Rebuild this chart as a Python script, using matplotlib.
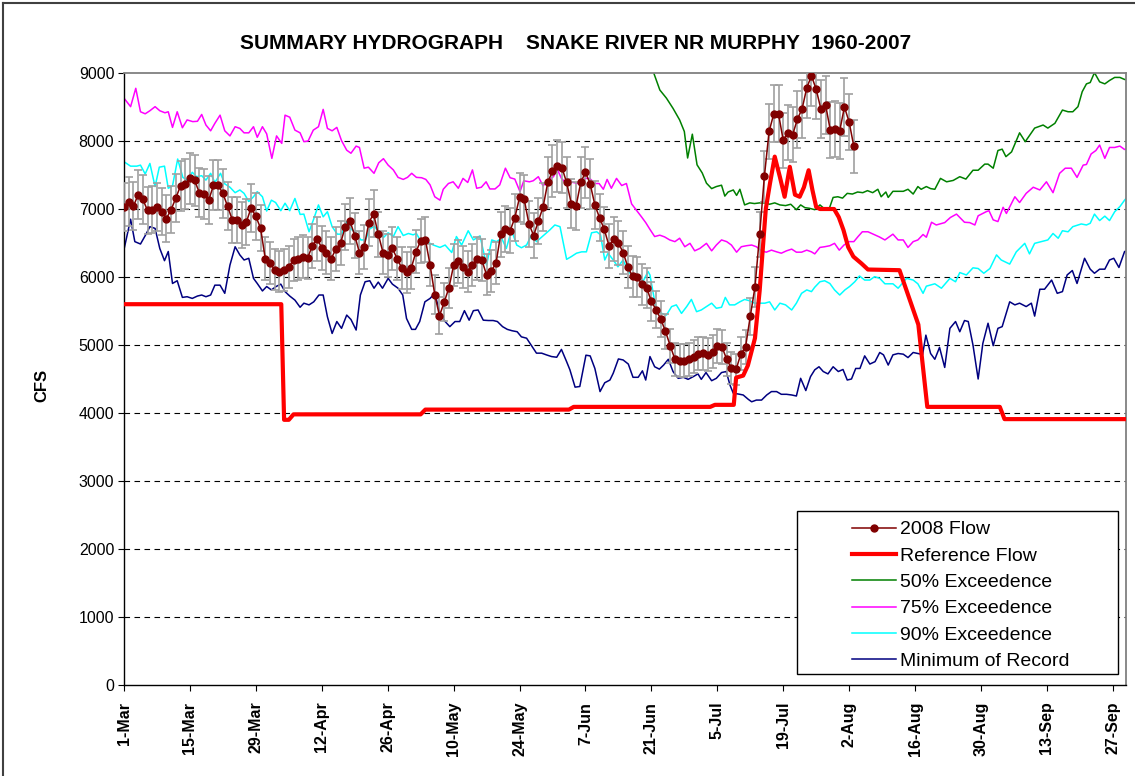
import matplotlib
matplotlib.use("Agg")
import matplotlib.pyplot as plt
import numpy as np
import pandas as pd
from matplotlib.lines import Line2D
from matplotlib.patches import Rectangle

plt.rcParams["font.family"] = ["Liberation Sans", "DejaVu Sans"]

TITLE = "SUMMARY HYDROGRAPH    SNAKE RIVER NR MURPHY  1960-2007"
Y_TICKS = list(range(0, 9001, 1000))
TICK_DATES = pd.date_range("2008-03-01", periods=16, freq="14D")
TICK_LABELS = [f"{d.day}-{d:%b}" for d in TICK_DATES]
TICK_DAYS = [(d - TICK_DATES[0]).days for d in TICK_DATES]
ERR_FRAC = 0.05  # error bars on 2008 flow

# 2008 daily flow, one value per day from 1-Mar
FLOW_2008 = [
    7030, 7110, 7040, 7210, 7140, 6980, 6990, 7030, 6960, 6860,
    6990, 7160, 7340, 7370, 7450, 7420, 7240, 7220, 7130, 7350,
    7350, 7230, 7040, 6840, 6840, 6760, 6810, 7020, 6890, 6720,
    6270, 6200, 6110, 6080, 6100, 6150, 6250, 6270, 6300, 6280,
    6460, 6560, 6430, 6360, 6270, 6410, 6500, 6740, 6820, 6610,
    6360, 6440, 6800, 6930, 6630, 6360, 6320, 6420, 6270, 6130,
    6070, 6130, 6370, 6530, 6550, 6180, 5740, 5430, 5630, 5840,
    6170, 6230, 6150, 6080, 6180, 6270, 6250, 6030, 6090, 6200,
    6630, 6710, 6680, 6870, 7170, 7140, 6780, 6610, 6820, 7030,
    7390, 7560, 7630, 7610, 7390, 7080, 7040, 7390, 7540, 7370,
    7060, 6870, 6700, 6460, 6560, 6500, 6360, 6150, 6010, 6000,
    5890, 5840, 5640, 5520, 5380, 5200, 4990, 4790, 4770, 4770,
    4790, 4830, 4870, 4880, 4860, 4900, 4990, 4970, 4790, 4660,
    4640, 4870, 4970, 5420, 5850, 6630, 7480, 8140, 8400, 8400,
    8010, 8120, 8090, 8320, 8470, 8780, 8960, 8760, 8470, 8530,
    8160, 8180, 8150, 8500, 8280, 7920,
]

REF_DAY = [0, 33.4, 34, 35, 36, 63, 64, 94.5, 95.5, 124.5, 125.5, 129.5, 130,
           131.5, 132.5, 134, 135, 135.7, 136.3, 137.2, 138.2, 139.3, 140.3,
           141.4, 142.5, 143.5, 144.4, 145.4, 146.2, 147, 147.8, 150.8, 151.8,
           152.8, 153.8, 154.9, 156.6, 158, 164.7, 168.7, 170.6, 186, 187, 213]
REF_CFS = [5600, 5600, 3900, 3900, 3980, 3980, 4050, 4050, 4090, 4090, 4120, 4120,
           4520, 4550, 4700, 5100, 5800, 6450, 7000, 7380, 7770, 7470, 7180, 7620,
           7210, 7180, 7320, 7570, 7280, 7030, 7000, 7000, 6880, 6690, 6440, 6300,
           6200, 6110, 6100, 5300, 4090, 4090, 3910, 3910]

P50_DAY = [111.4, 112.4, 113.8, 115.2, 116.6, 118.0, 119.0, 119.7, 120.7, 121.7,
           122.8, 123.7, 124.8, 125.8, 126.9, 127.6, 128.3, 129.4, 130.1, 130.8,
           131.8, 132.9, 133.9, 135.0, 136.1, 137.1, 138.2, 139.3, 140.5, 141.6,
           142.8, 143.7, 144.6, 145.6, 146.7, 147.8, 148.8, 149.8, 150.6, 151.6,
           152.6, 153.6, 154.7, 155.8, 156.9, 157.9, 159.0, 160.1, 160.8, 161.8,
           162.3, 163.3, 164.4, 165.5, 166.5, 167.6, 168.6, 169.3, 170.4, 171.3,
           172.2, 173.4, 174.7, 176.1, 177.5, 178.8, 180.3, 181.4, 182.8, 183.5,
           184.6, 185.6, 186.5, 187.3, 188.5, 190.2, 191.4, 193.4, 195.2, 196.2,
           197.7, 199.3, 200.5, 201.5, 202.6, 203.5, 204.4, 205.2, 206.1, 207.2,
           208.3, 209.3, 210.4, 211.5, 212.5, 213]
P50_CFS = [9300, 9020, 8750, 8630, 8480, 8310, 8140, 7750, 8100, 7650,
           7530, 7380, 7300, 7330, 7350, 7190, 7250, 7280, 7200, 7290,
           7060, 7090, 7080, 7090, 7090, 7070, 7090, 7060, 7050, 7070,
           6990, 7060, 7020, 7010, 6990, 7060, 7000, 7010, 7170, 7180,
           7160, 7230, 7220, 7250, 7240, 7270, 7240, 7290, 7180, 7250,
           7170, 7260, 7260, 7260, 7290, 7220, 7330, 7290, 7330, 7300,
           7290, 7450, 7400, 7420, 7475, 7440, 7570, 7570, 7660, 7660,
           7600, 7860, 7880, 7770, 7840, 8120, 7990, 8190, 8235, 8190,
           8260, 8455, 8430, 8430, 8505, 8725, 8840, 8860, 9005, 8870,
           8840, 8890, 8935, 8935, 8905, 8900]

P75_DAY = [0, 1.4, 2.5, 3.5, 4.5, 5.5, 6.6, 7.6, 8.7, 9.4, 10.3, 11.3, 12.4, 13.4,
           14.6, 15.6, 16.5, 17.4, 18.4, 19.3, 20.4, 21.4, 22.5, 23.6, 24.6, 25.5,
           26.5, 27.5, 28.3, 29.4, 30.3, 31.4, 32.4, 33.5, 34.2, 35.2, 36.3, 37.4,
           38.2, 39.1, 40.2, 41.3, 42.3, 43.2, 44.2, 45.2, 46.2, 47.3, 48.2, 49.3,
           50.0, 51.0, 51.9, 53.1, 54.1, 55.1, 56.1, 57.2, 58.2, 59.3, 60.2, 61.1,
           62.1, 63.2, 64.1, 65.0, 66.0, 67.1, 67.8, 68.9, 69.9, 71.0, 72.0, 73.0,
           74.0, 74.9, 75.9, 76.9, 77.7, 78.8, 79.8, 81.0, 82.0, 83.0, 84.1, 84.9,
           86.1, 86.9, 88.0, 89.0, 90.1, 91.2, 92.0, 92.9, 94.0, 94.7, 95.8, 96.8,
           97.9, 98.9, 100.0, 100.9, 101.8, 102.6, 103.5, 104.6, 105.7, 106.7,
           107.8, 108.8, 109.9, 110.8, 111.7, 112.7, 113.8, 114.8, 115.9, 117.0,
           118.0, 119.1, 120.2, 121.2, 122.3, 123.7, 124.8, 125.8, 126.9, 128.0,
           129.0, 130.1, 131.1, 132.2, 133.3, 134.3, 135.4, 136.4, 137.5, 138.6,
           139.6, 140.7, 141.8, 142.8, 143.9, 145.0, 146.0, 146.7, 147.8, 148.8,
           149.9, 150.9, 151.9, 152.9, 154.0, 155.0, 155.9, 156.8, 158.0, 159.1,
           160.4, 161.6, 162.6, 163.3, 164.4, 165.5, 166.5, 167.6, 168.6, 169.7,
           170.4, 171.5, 172.5, 174.3, 175.5, 176.8, 178.5, 179.6, 180.7, 181.4,
           183.1, 183.7, 184.6, 185.6, 186.7, 187.4, 189.2, 190.2, 191.6, 193.1,
           194.5, 195.9, 197.3, 198.7, 199.9, 201.2, 202.4, 203.7, 204.4, 205.4,
           206.4, 207.2, 208.3, 209.3, 210.4, 211.5, 212.5, 213]
P75_CFS = [8630, 8505, 8775, 8430, 8400, 8445, 8505, 8445, 8415, 8430, 8200, 8430,
           8195, 8310, 8285, 8290, 8390, 8235, 8150, 8260, 8380, 8150, 8075, 8210,
           8185, 8120, 8120, 8210, 8055, 8210, 8105, 7745, 8075, 7965, 8380, 8350,
           8160, 8120, 7990, 8000, 8160, 8210, 8465, 8185, 8150, 8200, 8005, 7865,
           7820, 7925, 7905, 7600, 7615, 7525, 7680, 7740, 7645, 7575, 7465, 7435,
           7465, 7525, 7465, 7460, 7435, 7355, 7180, 7130, 7290, 7375, 7400, 7305,
           7450, 7390, 7575, 7305, 7320, 7400, 7295, 7295, 7355, 7600, 7460, 7440,
           7255, 7415, 7400, 7415, 7475, 7340, 7425, 7475, 7585, 7450, 7375, 7400,
           7385, 7370, 7450, 7450, 7375, 7375, 7290, 7435, 7305, 7450, 7345, 7375,
           7075, 6985, 6885, 6800, 6700, 6595, 6615, 6590, 6545, 6520, 6570, 6445,
           6495, 6385, 6420, 6495, 6385, 6470, 6545, 6520, 6470, 6365, 6445, 6460,
           6470, 6445, 6385, 6365, 6395, 6370, 6350, 6385, 6410, 6365, 6365, 6395,
           6370, 6340, 6435, 6445, 6460, 6495, 6395, 6470, 6520, 6520, 6595, 6665,
           6665, 6630, 6590, 6545, 6595, 6630, 6545, 6545, 6435, 6520, 6545, 6625,
           6585, 6805, 6765, 6800, 6875, 6925, 6805, 6800, 6765, 6900, 6960, 6975,
           6840, 6815, 7025, 6935, 7180, 7095, 7230, 7320, 7280, 7400, 7240, 7525,
           7600, 7600, 7465, 7645, 7655, 7810, 7860, 7940, 7745, 7905, 7905, 7925,
           7875, 7890]

P90_DAY = [0, 1.4, 2.7, 3.5, 4.5, 5.5, 6.6, 7.5, 8.6, 9.4, 10.3, 11.4, 12.5, 13.4,
           14.5, 15.4, 16.5, 17.4, 18.4, 19.3, 20.5, 21.4, 22.5, 23.6, 24.6, 25.5,
           26.5, 27.5, 28.3, 29.4, 30.3, 31.3, 32.2, 33.3, 34.2, 35.2, 36.3, 37.4,
           38.2, 39.3, 40.3, 41.3, 42.3, 43.2, 44.2, 45.3, 46.2, 47.3, 48.3, 49.4,
           50.3, 51.3, 52.2, 53.2, 54.1, 55.1, 56.1, 57.2, 58.2, 59.3, 60.4, 61.4,
           62.1, 63.2, 64.3, 65.7, 67.1, 68.2, 69.6, 70.6, 71.7, 73.1, 74.2, 75.6,
           77.0, 78.1, 79.1, 80.2, 81.2, 82.3, 83.4, 84.4, 85.5, 86.6, 87.6, 89.0,
           90.4, 91.5, 92.6, 94.0, 95.0, 96.1, 97.2, 98.2, 99.3, 100.4, 101.2,
           102.1, 102.8, 103.9, 104.9, 106.0, 107.1, 108.1, 109.2, 110.3, 111.3,
           111.7, 112.4, 113.1, 114.2, 115.2, 116.3, 117.3, 118.4, 119.5, 120.5,
           121.6, 122.6, 123.7, 124.8, 125.8, 126.9, 127.7, 128.6, 129.7, 130.8,
           131.8, 132.9, 133.9, 135.0, 136.1, 137.1, 138.2, 139.3, 140.5, 141.8,
           142.8, 143.9, 145.0, 146.0, 146.7, 147.8, 148.8, 149.9, 150.9, 152.0,
           153.1, 154.1, 155.2, 156.2, 157.3, 158.4, 159.4, 160.5, 161.6, 163.3,
           164.4, 166.2, 167.6, 168.6, 169.7, 170.4, 172.2, 173.6, 175.4, 176.6,
           177.5, 178.9, 180.3, 181.4, 182.6, 183.9, 185.3, 186.3, 188.1, 189.5,
           191.3, 192.3, 193.4, 194.8, 196.2, 197.3, 198.4, 199.3, 200.5, 201.5,
           203.3, 204.4, 205.2, 206.1, 207.2, 208.3, 209.3, 210.4, 211.5, 212.5, 213]
P90_CFS = [7695, 7630, 7630, 7645, 7515, 7670, 7330, 7615, 7630, 7305, 7340, 7735,
           7465, 7425, 7540, 7475, 7490, 7425, 7525, 7390, 7525, 7370, 7320, 7240,
           7280, 7230, 7110, 7180, 7255, 7180, 6970, 7130, 7095, 6975, 7085, 6975,
           7155, 6920, 6925, 6665, 6855, 7060, 6885, 6960, 6740, 6630, 6630, 6815,
           6700, 6640, 6545, 6545, 6710, 6745, 6660, 6580, 6650, 6595, 6740, 6610,
           6640, 6620, 6640, 6505, 6520, 6470, 6435, 6470, 6360, 6595, 6470, 6680,
           6545, 6605, 6175, 6545, 6520, 6570, 6420, 6690, 6470, 6430, 6470, 6625,
           6520, 6605, 6690, 6765, 6740, 6260, 6300, 6350, 6370, 6370, 6650, 6665,
           6620, 6250, 6350, 6250, 6150, 6250, 6080, 6015, 5980, 5945, 6080, 6030,
           5760, 5490, 5465, 5440, 5565, 5590, 5465, 5565, 5670, 5490, 5515, 5565,
           5615, 5540, 5555, 5700, 5590, 5590, 5635, 5670, 5650, 5615, 5615, 5615,
           5635, 5515, 5615, 5590, 5515, 5615, 5760, 5810, 5785, 5850, 5930, 5945,
           5905, 5810, 5735, 5810, 5860, 5930, 6015, 5955, 5955, 6005, 5980, 5900,
           5900, 5835, 5980, 5955, 5900, 5760, 5865, 5900, 5835, 5980, 5930, 6065,
           6030, 6135, 6125, 6055, 6125, 6325, 6250, 6190, 6370, 6495, 6340, 6495,
           6520, 6545, 6640, 6570, 6680, 6665, 6740, 6780, 6765, 6790, 6925, 6830,
           6895, 6830, 6960, 7035, 7130, 7170]

MIN_DAY = [0, 1.4, 2.3, 3.5, 4.6, 5.5, 6.6, 7.6, 8.6, 9.4, 10.3, 11.3, 12.4, 13.4,
           14.5, 15.6, 16.5, 17.4, 18.4, 19.3, 20.4, 21.4, 22.5, 23.6, 24.6, 25.5,
           26.5, 27.5, 28.3, 29.4, 30.3, 31.3, 32.3, 33.3, 34.2, 35.2, 36.3, 37.4,
           38.2, 39.3, 40.3, 41.4, 42.3, 43.2, 44.2, 45.2, 46.2, 47.3, 48.2, 49.3,
           50.2, 51.2, 52.2, 53.1, 54.0, 54.9, 56.1, 57.0, 58.2, 59.2, 60.0, 61.1,
           61.9, 62.8, 63.9, 65.0, 66.0, 67.1, 68.2, 69.2, 70.3, 71.3, 72.3, 73.3,
           74.2, 75.2, 76.3, 77.4, 78.4, 79.3, 80.4, 81.4, 82.4, 83.5, 84.4, 85.5,
           86.6, 87.6, 88.7, 89.7, 90.8, 91.9, 92.9, 94.0, 94.7, 95.8, 96.8, 98.1,
           99.0, 100.0, 101.1, 102.1, 103.2, 103.9, 105.0, 106.0, 107.1, 108.1,
           109.2, 110.1, 110.8, 111.7, 112.7, 113.7, 114.6, 115.6, 116.6, 117.7,
           118.8, 119.8, 120.9, 121.9, 122.6, 123.6, 124.8, 125.8, 126.9, 127.9,
           128.7, 129.4, 130.4, 131.5, 132.6, 133.3, 134.3, 135.4, 136.5, 137.5,
           138.6, 139.6, 140.7, 141.8, 142.8, 143.7, 144.8, 145.8, 146.7, 147.6,
           148.5, 149.5, 150.6, 151.7, 152.7, 153.6, 154.5, 155.4, 156.3, 157.3,
           158.4, 159.5, 160.5, 161.3, 162.3, 163.3, 164.4, 165.5, 166.5, 167.6,
           168.6, 169.6, 170.3, 171.3, 172.2, 173.2, 174.3, 175.4, 176.6, 177.5,
           178.5, 179.3, 180.3, 181.4, 182.4, 183.5, 184.6, 185.6, 186.5, 188.1,
           189.2, 190.2, 191.6, 192.7, 193.4, 194.5, 195.5, 197.0, 198.2, 199.3,
           200.3, 201.4, 202.4, 204.0, 205.2, 206.1, 207.2, 208.3, 209.3, 210.2,
           211.3, 212.5, 213]
MIN_CFS = [6405, 6850, 6520, 6485, 6620, 6740, 6715, 6420, 6240, 6375, 5905, 5945,
           5700, 5710, 5685, 5720, 5735, 5710, 5735, 5880, 5880, 5760, 6175, 6445,
           6325, 6250, 6275, 5980, 5905, 5795, 5860, 5810, 5860, 5895, 5785, 5720,
           5660, 5555, 5615, 5590, 5635, 5735, 5735, 5415, 5170, 5345, 5245, 5440,
           5375, 5220, 5735, 5930, 5945, 5835, 5925, 5835, 5980, 5895, 5835, 5735,
           5390, 5230, 5230, 5345, 5635, 5685, 5760, 5465, 5345, 5270, 5345, 5345,
           5505, 5365, 5505, 5515, 5365, 5360, 5360, 5345, 5270, 5230, 5210, 5195,
           5120, 5100, 4985, 4880, 4880, 4855, 4830, 4820, 4935, 4755, 4635, 4380,
           4390, 4850, 4840, 4655, 4315, 4445, 4485, 4585, 4795, 4780, 4720, 4525,
           4525, 4620, 4485, 4830, 4680, 4645, 4705, 4790, 4610, 4510, 4525, 4495,
           4535, 4575, 4495, 4595, 4475, 4510, 4595, 4610, 4410, 4290, 4280, 4265,
           4200, 4165, 4190, 4190, 4265, 4315, 4315, 4275, 4275, 4265, 4250, 4510,
           4330, 4535, 4635, 4680, 4610, 4575, 4680, 4610, 4640, 4485, 4500, 4655,
           4655, 4840, 4720, 4755, 4890, 4855, 4705, 4855, 4875, 4865, 4815, 4890,
           4875, 4860, 5145, 4875, 4790, 4965, 4670, 5245, 5345, 5195, 5360, 5345,
           5000, 4500, 5025, 5320, 4990, 5245, 5270, 5635, 5590, 5615, 5565, 5615,
           5425, 5820, 5820, 5955, 5760, 5785, 6030, 6095, 5905, 6275, 6115, 6055,
           6115, 6115, 6250, 6275, 6140, 6375, 6380]

W, H = 1135, 776


def main() -> None:
    fig = plt.figure(figsize=(W / 100, H / 100), dpi=100)
    ax = fig.add_axes([124 / W, 1 - 685 / H, (1126 - 124) / W, (685 - 73) / H])

    for y in Y_TICKS[1:-1]:
        ax.axhline(y, color="black", linestyle=(0, (5, 4)), linewidth=0.8, zorder=1)

    ax.plot(MIN_DAY, MIN_CFS, color="#000080", linewidth=1.1, label="Minimum of Record", zorder=2)
    ax.plot(P90_DAY, P90_CFS, color="#00ffff", linewidth=1.1, label="90% Exceedence", zorder=2)
    ax.plot(P75_DAY, P75_CFS, color="#ff00ff", linewidth=1.1, label="75% Exceedence", zorder=2)
    ax.plot(P50_DAY, P50_CFS, color="#008000", linewidth=1.1, label="50% Exceedence", zorder=2)

    flow = np.array(FLOW_2008, dtype=float)
    flow_days = np.arange(len(flow))
    ax.errorbar(flow_days, flow, yerr=flow * ERR_FRAC, fmt="none", ecolor="#a0a0a0",
                elinewidth=1.2, capsize=2.6, capthick=1.2, zorder=3)
    ax.plot(REF_DAY, REF_CFS, color="#ff0000", linewidth=3, label="Reference Flow",
            solid_joinstyle="round", zorder=4)
    ax.plot(flow_days, flow, color="#800000", linewidth=1.1, marker="o", markersize=5,
            label="2008 Flow", zorder=5)

    ax.set_xlim(0, 212.8)
    ax.set_ylim(0, 9000)
    ax.set_yticks(Y_TICKS)
    ax.set_xticks(TICK_DAYS)
    ax.set_xticklabels(TICK_LABELS, rotation=90, fontsize=11.5, fontweight="bold")
    ax.tick_params(axis="y", labelsize=11.5, direction="out", length=4, pad=3)
    ax.tick_params(axis="x", direction="out", length=4, pad=8)
    ax.set_ylabel("CFS", fontsize=12, fontweight="bold")
    ax.yaxis.set_label_coords(-0.074, 0.49)

    for side in ("top", "right"):
        ax.spines[side].set_color("#808080")
        ax.spines[side].set_linewidth(1.3)
    for side in ("left", "bottom"):
        ax.spines[side].set_linewidth(1.0)

    fig.text(576 / W, 1 - 49 / H, TITLE, ha="center", va="baseline",
             fontsize=15, fontweight="bold")

    # legend box drawn separately so the padding matches the original
    fig.add_artist(Rectangle((797 / W, 1 - 674 / H), (1118 - 797) / W, (674 - 511) / H,
                             transform=fig.transFigure, facecolor="white",
                             edgecolor="black", linewidth=1.0, zorder=6))
    order = ["2008 Flow", "Reference Flow", "50% Exceedence", "75% Exceedence",
             "90% Exceedence", "Minimum of Record"]
    handles, labels = ax.get_legend_handles_labels()
    lookup = dict(zip(labels, handles))
    leg = fig.legend([lookup[k] for k in order], order, loc="upper left",
                     bbox_to_anchor=(842 / W, 1 - 511 / H), frameon=False,
                     fontsize=14, handlelength=2.3, handletextpad=0.2,
                     labelspacing=0.45, borderpad=0, numpoints=1)
    leg.set_zorder(7)

    # outer chart border
    fig.add_artist(Line2D([3 / W, 3 / W], [0, 1 - 3 / H], transform=fig.transFigure,
                          color="#404040", linewidth=1.5))
    fig.add_artist(Line2D([3 / W, 1], [1 - 3 / H, 1 - 3 / H], transform=fig.transFigure,
                          color="#404040", linewidth=1.5))

    fig.savefig("out.png", dpi=100)
    plt.close(fig)


if __name__ == "__main__":
    main()
